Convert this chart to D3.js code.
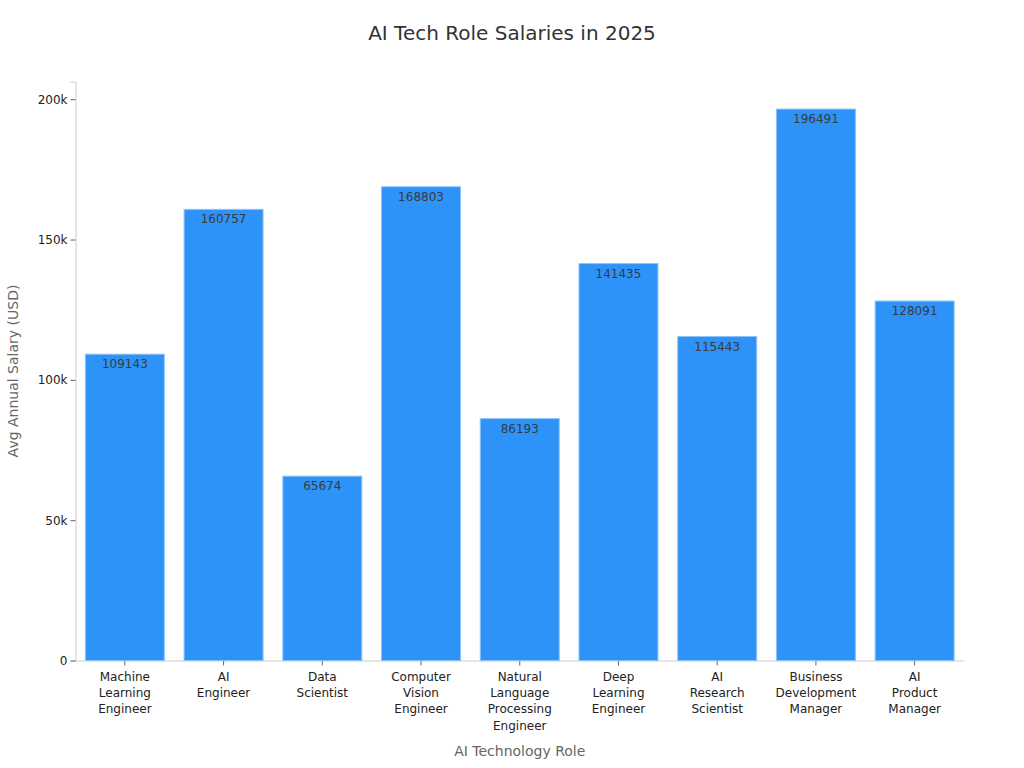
<!DOCTYPE html>
<html><head><meta charset="utf-8">
<script src="https://cdn.jsdelivr.net/npm/d3@7"></script>
<style>body{margin:0;background:#fff;font-family:"DejaVu Sans",sans-serif;}</style>
</head><body><svg id="c" width="1024" height="768"></svg>
<script>
const categories = [["Machine","Learning","Engineer"],["AI","Engineer"],["Data","Scientist"],["Computer","Vision","Engineer"],["Natural","Language","Processing","Engineer"],["Deep","Learning","Engineer"],["AI","Research","Scientist"],["Business","Development","Manager"],["AI","Product","Manager"]];
const values = [109143,160757,65674,168803,86193,141435,115443,196491,128091];
const yTicks = [0,50000,100000,150000,200000];
const yTickLabels = ["0","50k","100k","150k","200k"];

const svg = d3.select("#c");
const m = {l:75.5, r:60, t:81.5, b:107.5};
const W = 1024, H = 768;
const names = categories.map(c=>c.join(" "));
const x = d3.scaleBand().domain(names).range([m.l, W-m.r]).paddingInner(0.2).paddingOuter(0.1);
const y = d3.scaleLinear().domain([0, d3.max(values)*1.05]).range([H-m.b, m.t]);

svg.append("text").attr("x",512).attr("y",40).attr("text-anchor","middle")
  .attr("font-size",20).attr("fill","#333").text("AI Tech Role Salaries in 2025");

const ya = svg.append("g").attr("transform",`translate(${m.l},0)`)
  .call(d3.axisLeft(y).tickValues(yTicks).tickFormat((d,i)=>yTickLabels[i]).tickSize(5).tickPadding(3));
ya.select(".domain").attr("stroke","#ccc");
ya.selectAll(".tick line").attr("stroke","#666");
ya.selectAll(".tick text").attr("font-size",12).attr("fill","#222").attr("font-family","DejaVu Sans");

const xa = svg.append("g").attr("transform",`translate(0,${H-m.b})`)
  .call(d3.axisBottom(x).tickSize(5).tickSizeOuter(0));
xa.select(".domain").attr("stroke","#ccc");
xa.selectAll(".tick line").attr("stroke","#666");
xa.selectAll(".tick text").each(function(d,i){
  const t = d3.select(this).text(null).attr("font-size",12).attr("fill","#222").attr("font-family","DejaVu Sans").attr("y",12);
  categories[i].forEach((w,j)=>t.append("tspan").attr("x",0).attr("dy", j===0?"0.71em":"1.35em").text(w));
});

svg.append("g").selectAll("rect").data(values).join("rect")
  .attr("x",(d,i)=>x(names[i])).attr("width",x.bandwidth())
  .attr("y",d=>y(d)).attr("height",d=>y(0)-y(d))
  .attr("fill","#2e93f8").attr("stroke","#8ec3f7").attr("stroke-width",1);

svg.append("g").selectAll("text").data(values).join("text")
  .attr("x",(d,i)=>x(names[i])+x.bandwidth()/2).attr("y",d=>y(d)+14)
  .attr("text-anchor","middle").attr("font-size",12).attr("fill","#3a3a3a").text(d=>d);

svg.append("text").attr("x",(m.l+W-m.r)/2).attr("y",756).attr("text-anchor","middle")
  .attr("font-size",14).attr("fill","#666").text("AI Technology Role");
svg.append("text").attr("transform",`translate(18,${(m.t+H-m.b)/2}) rotate(-90)`).attr("text-anchor","middle")
  .attr("font-size",14).attr("fill","#666").text("Avg Annual Salary (USD)");
</script></body></html>
